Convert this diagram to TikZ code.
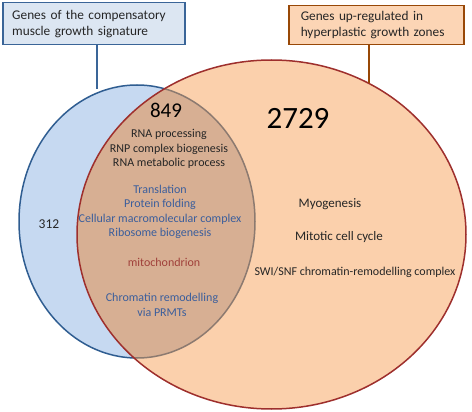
\documentclass[tikz,border=0pt]{standalone}
\usepackage{fontspec}
\setmainfont{Carlito}

\definecolor{bluefill}{HTML}{C6D9F1}
\definecolor{blueline}{HTML}{2F5D91}
\definecolor{orangefill}{HTML}{FBD0AC}
\definecolor{orangeline}{HTML}{9E2F2D}
\definecolor{overlapfill}{HTML}{D7AF93}
\definecolor{overlapline}{HTML}{8C7A70}
\definecolor{blueboxfill}{HTML}{DCE6F2}
\definecolor{blueboxline}{HTML}{3A6598}
\definecolor{orangeboxfill}{HTML}{FCD5B5}
\definecolor{orangeboxline}{HTML}{984807}
\definecolor{txtgray}{HTML}{262626}
\definecolor{termblue}{HTML}{3B5E9C}
\definecolor{termred}{HTML}{A0403A}

\begin{document}
\begin{tikzpicture}[x=1pt,y=-1pt,
    callout/.style={draw, line width=1.5pt, align=left, anchor=north west, inner ysep=0pt,
      text=txtgray, font=\fontsize{13.3}{16}\selectfont},
    term/.style={align=center, inner sep=0pt, text=txtgray, font=\fontsize{12}{14.4}\selectfont},
    leader/.style={line width=1.5pt}]
  \useasboundingbox (0,0) rectangle (472,412);

  % the two sets
  \path[fill=bluefill, draw=blueline, line width=1.5pt] (137,221.5) ellipse [x radius=118pt, y radius=136.5pt];
  \path[fill=orangefill] (271.5,234.5) ellipse [x radius=194.5pt, y radius=174.5pt];
  \begin{scope}
    \clip (271.5,234.5) ellipse [x radius=194.5pt, y radius=174.5pt];
    \path[fill=overlapfill, draw=overlapline, line width=1.5pt] (137,221.5) ellipse [x radius=118pt, y radius=136.5pt];
  \end{scope}
  \draw[orangeline, line width=1.5pt] (271.5,234.5) ellipse [x radius=194.5pt, y radius=174.5pt];

  \coordinate (bluetop) at (97,89);
  \coordinate (orangetop) at (369,83.5);

  % callouts
  \node[callout, fill=blueboxfill, draw=blueboxline, minimum height=42pt, text width=163pt, inner xsep=9.5pt]
    (bluebox) at (2,2) {Genes of the compensatory\\muscle growth signature};
  \node[callout, fill=orangeboxfill, draw=orangeboxline, minimum height=39pt, text width=151pt, inner xsep=12pt]
    (orangebox) at (288,5) {Genes up-regulated in\\hyperplastic growth zones};
  \draw[leader, blueboxline] (bluebox.south -| bluetop) -- (bluetop);
  \draw[leader, orangeboxline] (orangebox.south -| orangetop) -- (orangetop);

  % counts
  \node[term, font=\fontsize{13.5}{15}\selectfont] (blueonly) at (49,224) {312};
  \node[term, font=\fontsize{21}{24}\selectfont, text=black] (common) at (166,110) {849};
  \node[term, font=\fontsize{31}{36}\selectfont, text=black] (orangeonly) at (298,118) {2729};

  % terms in the overlap
  \node[term] (rnaterms) at (169,149) {RNA processing\\RNP complex biogenesis\\RNA metabolic process};
  \node[term, text=termblue] (protterms) at (160,212) {Translation\\Protein folding\\Cellular macromolecular complex\\Ribosome biogenesis};
  \node[term, text=termred] (mito) at (164,262) {mitochondrion};
  \node[term, text=termblue] (chromterms) at (162,305) {Chromatin remodelling\\via PRMTs};

  % terms in the hyperplastic set only
  \node[term, font=\fontsize{13}{15}\selectfont] (myo) at (330,204) {Myogenesis};
  \node[term, font=\fontsize{13}{15}\selectfont] (mitotic) at (339,237) {Mitotic cell cycle};
  \node[term] (swisnf) at (355,272) {SWI/SNF chromatin-remodelling complex};
\end{tikzpicture}
\end{document}
